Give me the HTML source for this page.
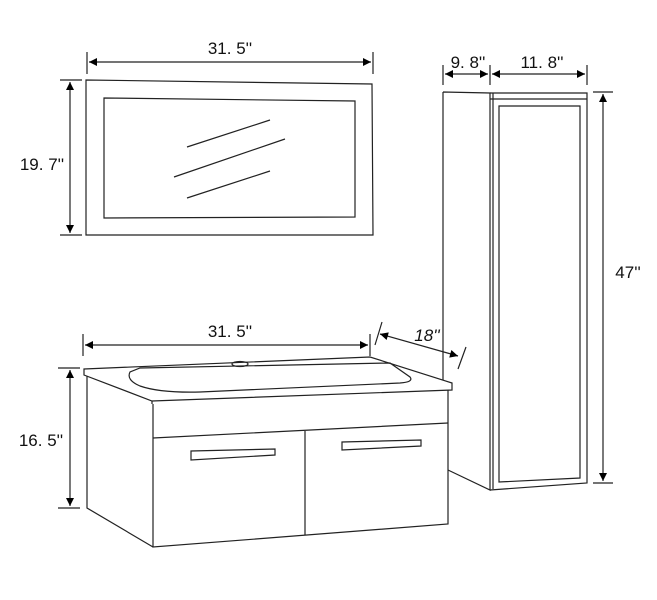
<!DOCTYPE html>
<html><head><style>body{margin:0;background:#fff}svg{display:block}text{font-family:"Liberation Sans",sans-serif;font-size:17px;fill:#111}</style></head><body>
<svg width="657" height="600" viewBox="0 0 657 600" xmlns="http://www.w3.org/2000/svg">
<defs><marker id="a" viewBox="0 0 10 10" refX="10" refY="5" markerWidth="12" markerHeight="8" orient="auto-start-reverse" markerUnits="userSpaceOnUse"><path d="M0,0L10,5L0,10z" fill="#000"/></marker></defs>
<g stroke="#222" stroke-width="1.2" fill="none">
<!-- mirror -->
<path d="M86,80 L372,84 L373,235 L86,235 Z"/>
<path d="M104,98 L355,101 L355,217 L104,218 Z"/>
<path d="M187,147 L270,120 M174,177 L285,139 M187,198 L270,171"/>
<path d="M87,52V74 M373,52V74 M60,80H82 M60,235H82"/>
<line x1="89" y1="62" x2="371" y2="62" marker-start="url(#a)" marker-end="url(#a)"/>
<line x1="70" y1="82" x2="70" y2="233" marker-start="url(#a)" marker-end="url(#a)"/>
<!-- tall cabinet -->
<path d="M443,92 L490,93 L490,490 L448,470 M443,92 L443,475"/>
<path d="M490,93 L587,93 L587,483 L490,490"/>
<path d="M493,93 L493,489 M490,99 L587,99"/>
<path d="M499,106 L580,106 L580,478 L499,482 Z"/>
<path d="M443,65V85 M490,65V85 M587,65V85 M593,92H613 M593,483H613"/>
<line x1="445" y1="74" x2="488" y2="74" marker-start="url(#a)" marker-end="url(#a)"/>
<line x1="492" y1="74" x2="585" y2="74" marker-start="url(#a)" marker-end="url(#a)"/>
<line x1="603" y1="94" x2="603" y2="481" marker-start="url(#a)" marker-end="url(#a)"/>
<!-- vanity -->
<path d="M87,376 L152,401 L448,390 L448,524 L153,547 L87,508 Z" fill="#fff" stroke="none"/>
<path d="M84,369 L370,357 L452,383 L452,390 L152,401 L84,375 Z" fill="#fff"/>
<path d="M152,401 L152,404"/>
<path d="M130,372 Q126,380 140,386 Q160,393 200,392 L400,383 Q414,382 410,377 L390,363 L140,368 Z"/>
<ellipse cx="240" cy="364" rx="8" ry="2.5"/>
<path d="M87,376 L87,508 L153,547 M153,404 L153,547 L448,524 L448,390"/>
<path d="M153,438 L448,423 M305,431 L305,535"/>
<path d="M191,451 L275,449 L275,455 L191,460 Z"/>
<path d="M342,442 L421,440 L421,446 L342,450 Z"/>
<path d="M83,334V356 M370,334V356 M58,368H80 M58,508H80"/>
<line x1="85" y1="345" x2="368" y2="345" marker-start="url(#a)" marker-end="url(#a)"/>
<line x1="70" y1="370" x2="70" y2="506" marker-start="url(#a)" marker-end="url(#a)"/>
<line x1="380" y1="334" x2="458" y2="356" marker-start="url(#a)" marker-end="url(#a)"/>
<path d="M382,322 L375,345 M466,347 L458,369"/>
</g>
<text x="230" y="54" text-anchor="middle">31. 5''</text>
<text x="42" y="170" text-anchor="middle">19. 7''</text>
<text x="468" y="68" text-anchor="middle">9. 8''</text>
<text x="542" y="68" text-anchor="middle">11. 8''</text>
<text x="628" y="278" text-anchor="middle">47''</text>
<text x="230" y="337" text-anchor="middle">31. 5''</text>
<text x="427" y="341" text-anchor="middle" font-style="italic">18''</text>
<text x="41" y="446" text-anchor="middle">16. 5''</text>
</svg>
</body></html>
